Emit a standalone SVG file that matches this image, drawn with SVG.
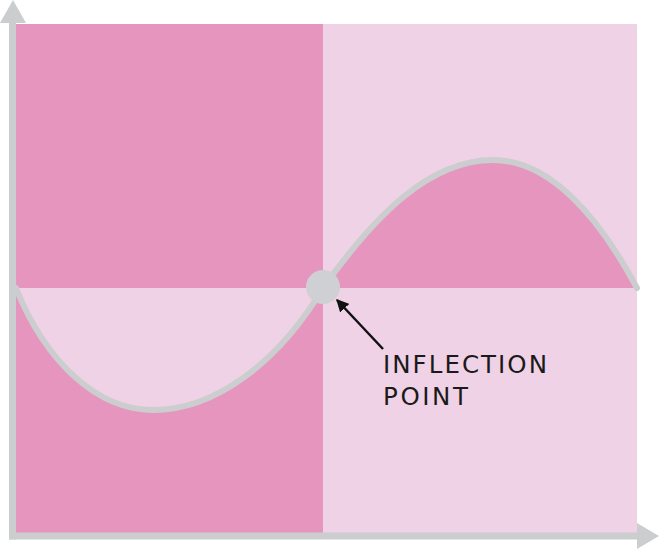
<svg xmlns="http://www.w3.org/2000/svg" width="659" height="549" viewBox="0 0 659 549">
  <style>
    .dark { fill: #E695BF; }
    .light { fill: #F0D2E6; }
    .axis { stroke: #CCCDCF; stroke-width: 7; fill: none; }
    .axhead { fill: #CCCDCF; }
    .curve { stroke: #CCCDCF; stroke-width: 6; fill: none; stroke-linecap: round; }
    .lbl { font-family: "DejaVu Sans", "Open Sans", "Liberation Sans", sans-serif; font-size: 24.5px; fill: #1a1a1a; }
  </style>
  <defs>
    <marker id="ah" viewBox="0 0 10 10" refX="9" refY="5" markerWidth="5" markerHeight="5" orient="auto" markerUnits="strokeWidth">
      <path d="M0,0 L10,5 L0,10 Z" fill="#111"/>
    </marker>
  </defs>
  <g id="quadrants">
    <rect class="dark" x="16" y="24" width="307" height="264"/>
    <rect class="light" x="323" y="24" width="314" height="264"/>
    <rect class="dark" x="16" y="288" width="307" height="245"/>
    <rect class="light" x="323" y="288" width="314" height="245"/>
    <path class="light" d="M16,288 C46,363 98,410 153,410 C215,410 278,363 323,288 Z"/>
    <path class="dark" d="M323,288 C373,218 428,160 493,160 C548,160 597,213 637,288 Z"/>
  </g>
  <g id="axes">
    <line class="axis" x1="12.5" y1="20" x2="12.5" y2="539.5"/>
    <line class="axis" x1="9" y1="536" x2="640" y2="536"/>
    <polygon class="axhead" points="0,23 13,0 26,23"/>
    <polygon class="axhead" points="637,523 659,536 637,549"/>
  </g>
  <g id="curve">
    <path class="curve" d="M16,288 C46,363 98,410 153,410 C215,410 278,363 323,288 C373,218 428,160 493,160 C548,160 597,213 637,288"/>
  </g>
  <g id="inflection-point">
    <circle cx="323" cy="287" r="17" fill="#CED0D3"/>
  </g>
  <g id="connectors">
    <line x1="383" y1="349" x2="337" y2="300" stroke="#111" stroke-width="2.5" marker-end="url(#ah)"/>
  </g>
  <g id="label">
    <text class="lbl" x="383" y="373" textLength="164" lengthAdjust="spacing">INFLECTION</text>
    <text class="lbl" x="383" y="405" textLength="85" lengthAdjust="spacing">POINT</text>
  </g>
</svg>
